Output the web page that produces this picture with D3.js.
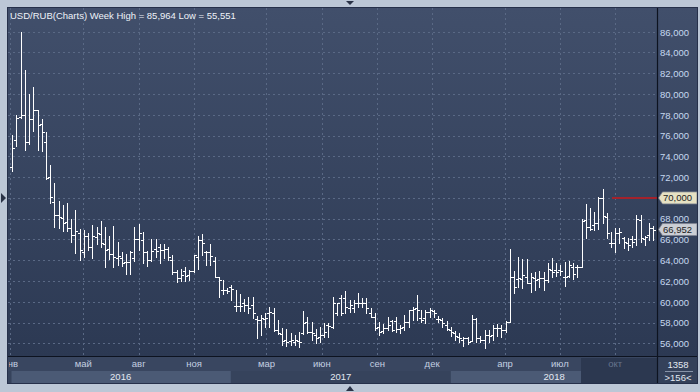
<!DOCTYPE html>
<html><head><meta charset="utf-8">
<script src="https://cdn.jsdelivr.net/npm/d3@7"></script>
<style>html,body{margin:0;padding:0;background:#bcc7d6;overflow:hidden}svg{display:block}</style>
</head><body><svg id="c" width="700" height="392"></svg>
<script>
// ---------- DATA (weekly OHLC USD/RUB, weeks starting Mon 4 Jan 2016) ----------
const openV = [73.0,75.6,77.8,78.0,75.4,77.6,78.5,77.1,75.4,72.0,69.6,68.4,68.1,67.7,67.1,66.4,66.6,64.8,66.3,65.3,
66.2,66.5,65.6,65.1,64.6,64.2,64.2,63.8,63.8,64.2,66.0,65.9,64.8,64.0,65.1,65.3,65.0,65.1,64.0,62.9,
62.3,63.0,62.6,63.0,64.3,65.9,64.8,64.8,63.9,62.4,61.1,61.1,61.4,59.6,59.6,59.9,59.7,59.7,58.3,58.25,
58.3,58.95,58.9,57.3,56.9,56.32,56.26,56.16,56.2,56.96,58.09,57.1,56.8,56.64,56.8,57.77,57.6,58.89,60.33,60.33,
59.37,59.37,59.85,59.92,59.85,58.95,58.57,57.6,57.2,57.5,58.18,58.18,57.35,57.6,58.09,59.21,59.37,58.41,58.41,59.05,
59.11,58.31,58.25,57.76,57.28,56.96,56.64,56.32,56.48,56.25,58.31,56.48,56.32,56.8,56.8,57.44,57.44,57.28,58.09,62.4,
62.16,62.16,62.41,61.84,62.25,62.16,62.25,62.09,63.06,63.06,63.06,62.41,62.48,63.38,63.38,63.31,67.87,67.16,67.39,67.55,
69.96,68.13,65.62,65.62,66.65,66.1,65.62,66.01,66.01,67.87,66.01,66.43,67.07];
const highV = [76.1,78.0,85.96,82.3,80.0,80.7,78.5,77.6,76.3,73.2,71.4,69.7,69.3,69.5,68.0,68.8,67.0,66.9,66.6,67.4,
67.2,67.8,67.2,66.3,67.3,65.8,64.8,64.6,64.9,67.2,67.5,66.7,64.9,66.0,66.0,65.6,65.6,65.3,64.5,63.1,
63.2,63.3,63.1,64.5,66.3,66.5,64.9,65.6,64.3,62.4,62.1,61.3,61.6,61.1,60.7,60.3,60.5,60.5,58.6,58.7,
58.9,59.5,59.4,58.25,57.44,57.35,56.96,56.8,57.12,59.14,58.57,58.09,57.35,57.6,57.93,57.93,60.49,59.85,60.65,61.07,
60.17,60.17,60.81,60.33,60.33,59.37,58.89,58.09,57.9,58.5,58.25,58.5,57.76,58.73,59.21,59.53,60.65,59.21,59.21,59.37,
59.21,58.63,58.41,58.18,57.6,57.22,56.96,56.64,56.58,58.73,58.41,56.71,57.28,57.28,57.76,57.86,57.76,58.15,65.1,63.0,
64.28,64.08,64.08,62.73,62.9,62.99,62.9,63.76,64.18,63.7,63.54,63.86,63.95,63.7,63.54,67.93,69.41,68.99,68.67,70.12,
70.82,68.51,66.75,67.07,67.07,66.27,66.1,66.33,68.35,68.35,66.33,67.55,67.29];
const lowV = [72.6,75.0,77.7,74.6,75.2,76.4,74.6,74.5,71.8,69.5,67.2,67.1,66.8,66.8,65.8,64.7,64.0,64.3,65.0,64.2,
65.6,65.3,63.3,64.1,63.3,63.5,63.4,62.7,62.7,63.9,65.0,63.7,63.4,63.9,64.3,63.7,64.2,64.0,62.7,61.9,
62.0,62.0,62.1,62.9,63.2,64.5,63.5,63.5,62.4,60.5,60.7,60.8,60.2,59.1,59.1,59.1,58.9,58.4,56.5,56.8,
57.6,57.6,57.2,56.9,55.84,55.74,55.84,55.84,55.68,56.9,56.96,56.32,56.0,56.16,56.64,56.64,57.44,58.73,58.73,58.89,
59.05,59.05,59.53,59.53,58.89,58.57,57.28,56.8,57.0,57.3,57.22,57.12,56.96,57.28,57.6,58.25,58.25,58.09,57.99,58.5,
58.5,58.09,57.6,57.28,56.71,56.32,56.16,55.74,55.9,56.25,56.16,56.16,55.55,56.16,56.32,56.71,56.64,57.12,58.08,60.8,
61.45,61.29,61.77,60.97,61.13,61.45,61.13,61.93,62.41,62.48,62.57,61.52,62.4,62.16,62.41,63.31,66.1,66.91,66.91,66.97,
67.55,66.1,65.3,64.82,65.62,65.14,64.98,65.3,65.46,65.78,65.46,65.94,65.94];
const closeV = [74.8,77.7,78.0,75.4,77.6,78.5,77.0,76.3,71.9,70.1,68.4,68.2,67.6,67.1,66.4,66.8,65.0,66.3,65.3,66.3,
66.6,65.7,65.0,64.6,64.3,64.4,63.7,63.8,64.8,66.0,66.6,64.8,64.0,64.9,64.9,65.0,65.1,64.3,62.9,62.3,
62.6,62.5,63.0,64.5,65.9,65.7,64.8,64.4,62.4,62.1,61.1,61.0,61.2,59.6,59.6,59.7,59.4,58.9,58.25,58.4,
58.4,59.05,57.3,56.96,56.26,56.16,56.3,56.32,56.16,58.0,57.1,56.96,56.48,56.8,57.1,57.7,59.85,59.85,58.89,59.47,
59.69,59.85,59.92,59.85,59.37,58.57,57.44,57.12,57.5,57.8,57.28,57.35,57.44,58.09,59.21,59.27,59.21,58.25,59.05,59.21,
58.95,58.31,57.93,57.35,57.12,56.71,56.48,56.48,56.16,58.31,56.48,56.32,56.8,56.71,57.44,57.44,57.28,58.09,62.42,61.4,
62.25,62.57,61.77,62.41,62.09,62.25,62.09,63.12,62.9,62.9,62.99,62.41,63.54,62.67,63.31,67.81,67.23,66.97,67.55,69.96,
68.25,66.59,65.62,66.65,66.75,65.78,65.46,65.78,67.93,66.1,66.2,67.07,66.95];

const firstWeek = new Date(2016, 0, 4);
const lastWeek = new Date(2018, 11, 3);
const weeks = d3.timeMonday.range(firstWeek, d3.timeDay.offset(lastWeek, 1));

const yTickValues = [56,58,60,62,64,66,68,70,72,74,76,78,80,82,84,86];
const monthTickDates = [new Date(2016,0,1),new Date(2016,4,1),new Date(2016,7,1),new Date(2016,10,1),
  new Date(2017,2,1),new Date(2017,5,1),new Date(2017,8,1),new Date(2017,11,1),
  new Date(2018,3,1),new Date(2018,6,1),new Date(2018,9,1)];
const monthTickLabels = ["янв","май","авг","ноя","мар","июн","сен","дек","апр","июл","окт"];
const yearLabels = ["2016","2017","2018"];
const yearStarts = [new Date(2016,0,1),new Date(2017,0,1),new Date(2018,0,1),new Date(2019,0,1)];
const titleText = "USD/RUB(Charts) Week High = 85,964 Low = 55,551";
const alertLevel = 70;
const lastPrice = 66.952;
const barCountText = "1358";
const visibleText = ">156<";

// ---------- LAYOUT ----------
const W = 700, H = 392;
const L = 8, T = 8, R = 657.5, B = 357;   // plot box
const FONT = "'Liberation Sans', Arial, sans-serif";
const svg = d3.select("#c");
const fmt = d => d3.format(".3f")(d).replace(".", ",");

const x = d3.scaleTime().domain([firstWeek, lastWeek]).range([12.2, 653.2]);
const y = d3.scaleLinear().domain([56, 86]).range([343.3, 31.7]);

const defs = svg.append("defs");
const g1 = defs.append("linearGradient").attr("id","bg").attr("x1",0).attr("y1",0).attr("x2",0).attr("y2",1);
g1.append("stop").attr("offset","0%").attr("stop-color","#414f6b");
g1.append("stop").attr("offset","100%").attr("stop-color","#2c3953");
defs.append("clipPath").attr("id","plotclip").append("rect").attr("x",L).attr("y",T).attr("width",R-L).attr("height",B-T);
defs.append("clipPath").attr("id","axclip").append("rect").attr("x",9).attr("y",B).attr("width",R-9).attr("height",30);

// outer frame
svg.append("rect").attr("width",W).attr("height",H).attr("fill","#bcc7d6");
// main panel background (plot + right axis)
svg.append("rect").attr("x",L).attr("y",T).attr("width",697-L).attr("height",B-T).attr("fill","url(#bg)");

// month row + year row
svg.append("rect").attr("x",L).attr("y",B).attr("width",R-L).attr("height",14).attr("fill","#394660");
svg.append("rect").attr("x",L).attr("y",B+14).attr("width",R-L).attr("height",12).attr("fill","#36435c");
const bandColors = ["#4b5a75", "#36435c", "#4b5a75"];
const bandEnd = [x(yearStarts[1]), x(yearStarts[2]), 581];
yearLabels.forEach((yl,i)=>{
  const x0 = Math.max(x(yearStarts[i]), 11.5), x1 = bandEnd[i];
  svg.append("rect").attr("x",x0).attr("y",B+14).attr("width",x1-x0).attr("height",12).attr("fill",bandColors[i]);
});
// dark future panel
svg.append("rect").attr("x",581).attr("y",B+1).attr("width",R-581).attr("height",25).attr("fill","#2c3850");
// right bottom box
svg.append("rect").attr("x",R).attr("y",B).attr("width",697-R).attr("height",26).attr("fill","#34415a");

// ---------- GRID ----------
const grid = svg.append("g").attr("clip-path","url(#plotclip)");
grid.selectAll("line.h").data(yTickValues).join("line")
  .attr("x1",L).attr("x2",R).attr("y1",d=>Math.round(y(d))+0.5).attr("y2",d=>Math.round(y(d))+0.5)
  .attr("stroke","#5a6985").attr("stroke-width",1).attr("stroke-dasharray","2,3");
grid.selectAll("line.v").data(monthTickDates).join("line")
  .attr("x1",d=>Math.round(x(d))+0.5).attr("x2",d=>Math.round(x(d))+0.5).attr("y1",T).attr("y2",B)
  .attr("stroke","#5a6985").attr("stroke-width",1).attr("stroke-dasharray","2,3");

// ---------- BARS ----------
const data = weeks.map((w,i)=>({d:w,o:openV[i],h:highV[i],l:lowV[i],c:closeV[i]}));
grid.append("g").selectAll("path").data(data).join("path")
  .attr("d", d=>{
    const cx = Math.round(x(d.d))+0.5;
    const yo = Math.round(y(d.o))+0.5, yc = Math.round(y(d.c))+0.5;
    return `M${cx},${Math.round(y(d.h))}V${Math.round(y(d.l))+1}M${cx-2.5},${yo}H${cx}M${cx},${yc}H${cx+2.5}`;
  })
  .attr("fill","none").attr("stroke","#ffffff").attr("stroke-width",1).attr("shape-rendering","crispEdges");

// alert line
grid.append("line").attr("x1",612).attr("x2",R).attr("y1",y(alertLevel)).attr("y2",y(alertLevel))
  .attr("stroke","#a3222c").attr("stroke-width",2);

// ---------- AXES ----------
// the 70,000 level is shown by its flag instead of a plain tick label
const yAxis = d3.axisRight(y).tickValues(yTickValues.filter(v=>v!==alertLevel)).tickSize(0).tickPadding(0)
  .tickFormat(fmt);
const ya = svg.append("g").attr("transform",`translate(660,0)`).call(yAxis);
ya.select(".domain").remove();
ya.selectAll("text").attr("font-family",FONT).attr("font-size","9.5px").attr("fill","#c6d8ef")
  .attr("text-anchor","start").attr("dy","0.35em").attr("x",0);

// month labels
const xa = svg.append("g").attr("clip-path","url(#axclip)");
xa.selectAll("text").data(monthTickDates).join("text")
  .attr("x",d=>x(d)).attr("y",B+10).attr("text-anchor","middle")
  .attr("font-family",FONT).attr("font-size","9.5px")
  .attr("fill",(d,i)=> i===monthTickDates.length-1 ? "#66748d" : "#c3cfe0")
  .text((d,i)=>monthTickLabels[i]);
// year labels
yearLabels.forEach((yl,i)=>{
  const x0 = Math.max(x(yearStarts[i]), 9), x1 = Math.min(x(yearStarts[i+1]), R);
  svg.append("text").attr("x",(x0+x1)/2).attr("y",B+23).attr("text-anchor","middle")
    .attr("font-family",FONT).attr("font-size","9.5px").attr("fill","#e3e9f2").text(yl);
});

// price flags
function flag(v, fill, txt){
  const cy = y(v);
  svg.append("path").attr("d",`M658.5,${cy}L662.5,${cy-6}H697V${cy+6}H662.5Z`)
    .attr("fill",fill).attr("stroke","#7d8390").attr("stroke-width",0.8);
  svg.append("text").attr("x",663).attr("y",cy).attr("dy","0.35em")
    .attr("font-family",FONT).attr("font-size","9.5px").attr("fill","#222").text(txt);
}
flag(alertLevel, "#e6e1c3", fmt(alertLevel));
flag(lastPrice, "#cbced5", fmt(lastPrice));

// title
svg.append("text").attr("x",10).attr("y",19).attr("font-family",FONT).attr("font-size","9.5px")
  .attr("fill","#eef2f8").text(titleText);

// right bottom box texts
svg.append("text").attr("x",678).attr("y",B+11).attr("text-anchor","middle").attr("font-family",FONT)
  .attr("font-size","9.5px").attr("fill","#e3e9f2").text(barCountText);
svg.append("line").attr("x1",665).attr("x2",693).attr("y1",B+14.5).attr("y2",B+14.5).attr("stroke","#8793a8");
svg.append("text").attr("x",678).attr("y",B+24).attr("text-anchor","middle").attr("font-family",FONT)
  .attr("font-size","9.5px").attr("fill","#e3e9f2").text(visibleText);

// frame lines
svg.append("line").attr("x1",R).attr("x2",R).attr("y1",T).attr("y2",B+26).attr("stroke","#0d1320").attr("stroke-width",1.2);
svg.append("line").attr("x1",L).attr("x2",697).attr("y1",B-0.5).attr("y2",B-0.5).attr("stroke","#0d1320").attr("stroke-width",1.2);
svg.append("rect").attr("x",L-0.5).attr("y",T-0.5).attr("width",697-L+1).attr("height",B+26-T+1)
  .attr("fill","none").attr("stroke","#26304a").attr("stroke-width",1);

// small navigation arrows
svg.append("path").attr("d","M346,1L354,1L350,5Z").attr("fill","#2a3347");
svg.append("path").attr("d","M346,391L354,391L350,386Z").attr("fill","#2a3347");
svg.append("path").attr("d",`M1,${y(alertLevel)-5}L6,${y(alertLevel)}L1,${y(alertLevel)+5}Z`).attr("fill","#2a3347");
</script></body></html>
